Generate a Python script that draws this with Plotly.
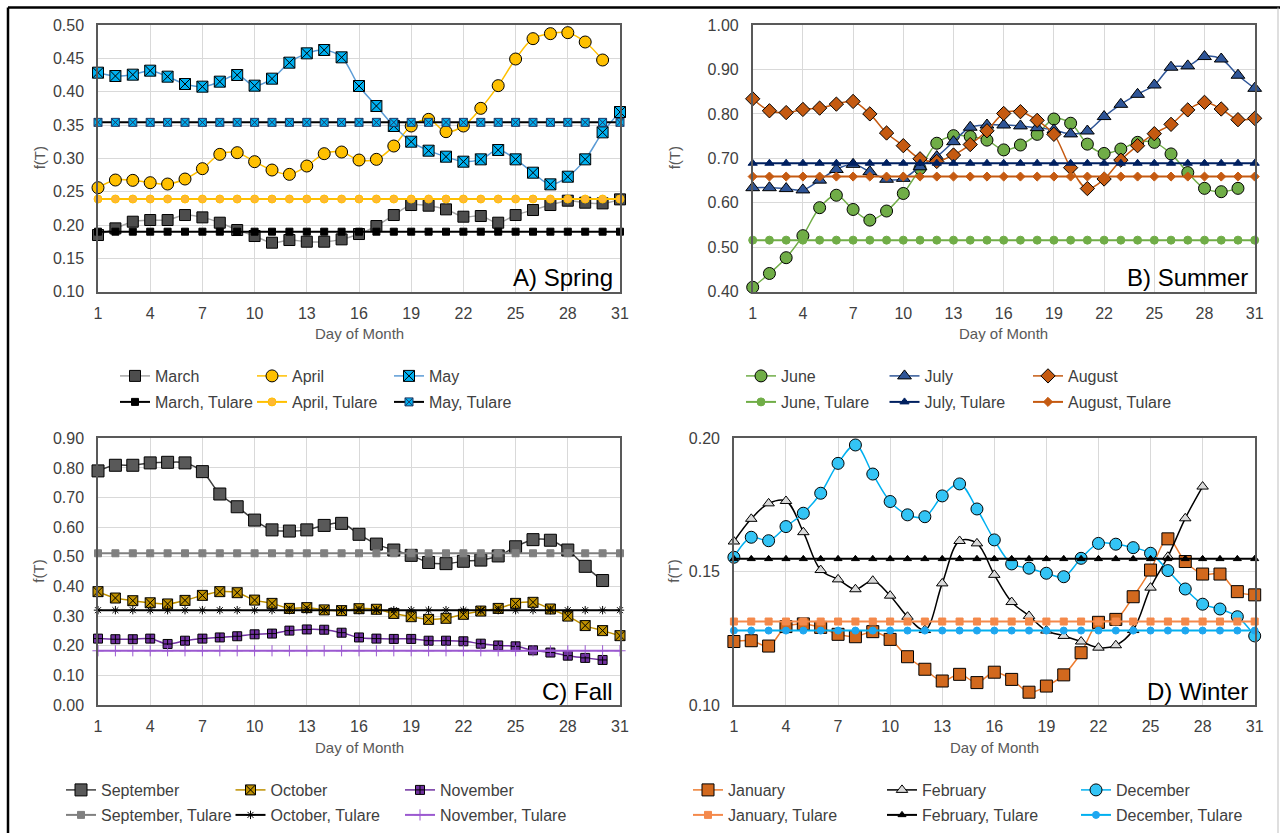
import plotly.graph_objects as go

W, H = 1280, 833
days = list(range(1, 32))
day_ticks = list(range(1, 32, 3))

# ---------------- Panel A: Spring ----------------
march = [0.185, 0.195, 0.205, 0.2075, 0.2075, 0.215, 0.2115, 0.2035, 0.1925, 0.1835,
         0.1735, 0.1775, 0.175, 0.175, 0.1785, 0.1865, 0.1985, 0.215, 0.230, 0.229,
         0.2235, 0.2125, 0.2135, 0.2035, 0.215, 0.2225, 0.230, 0.2365, 0.2335, 0.2325, 0.2385]
april = [0.256, 0.2675, 0.267, 0.2635, 0.2615, 0.269, 0.2845, 0.306, 0.3085, 0.295,
         0.2825, 0.276, 0.2885, 0.307, 0.3095, 0.2975, 0.2985, 0.3185, 0.3485, 0.3585,
         0.340, 0.3485, 0.375, 0.409, 0.449, 0.4795, 0.487, 0.4885, 0.4745, 0.4475]
may = [0.4285, 0.4235, 0.4255, 0.4315, 0.4225, 0.4115, 0.4075, 0.415, 0.425, 0.409,
       0.4195, 0.4435, 0.4575, 0.4625, 0.4515, 0.4085, 0.3785, 0.3485, 0.325, 0.3115,
       0.3025, 0.295, 0.2985, 0.3125, 0.2985, 0.2785, 0.261, 0.2725, 0.2985, 0.339, 0.3695]
march_tulare = 0.190
april_tulare = 0.239
may_tulare = 0.354

# ---------------- Panel B: Summer ----------------
june = [0.410, 0.441, 0.4765, 0.526, 0.589, 0.617, 0.585, 0.561, 0.5815, 0.621,
        0.677, 0.734, 0.751, 0.749, 0.741, 0.719, 0.730, 0.754, 0.7885, 0.779,
        0.732, 0.711, 0.721, 0.736, 0.736, 0.710, 0.668, 0.6325, 0.625, 0.6325]
july = [0.634, 0.634, 0.632, 0.629, 0.651, 0.675, 0.6865, 0.670, 0.653, 0.655,
        0.681, 0.704, 0.7375, 0.770, 0.775, 0.775, 0.773, 0.769, 0.764, 0.755,
        0.7615, 0.794, 0.8215, 0.844, 0.865, 0.905, 0.908, 0.929, 0.9235, 0.887, 0.8575]
august = [0.834, 0.807, 0.803, 0.810, 0.813, 0.822, 0.828, 0.800, 0.757, 0.7285,
          0.699, 0.693, 0.7075, 0.731, 0.762, 0.801, 0.805, 0.7855, 0.754, 0.679,
          0.632, 0.6535, 0.696, 0.7285, 0.7555, 0.7765, 0.809, 0.826, 0.811, 0.787, 0.790]
june_tulare = 0.516
july_tulare = 0.689
august_tulare = 0.659

# ---------------- Panel C: Fall ----------------
september = [0.790, 0.809, 0.809, 0.817, 0.819, 0.817, 0.7875, 0.712, 0.669, 0.624,
             0.591, 0.587, 0.591, 0.606, 0.613, 0.576, 0.543, 0.523, 0.505, 0.481,
             0.477, 0.485, 0.489, 0.503, 0.534, 0.558, 0.556, 0.523, 0.468, 0.420]
october = [0.3825, 0.361, 0.352, 0.345, 0.341, 0.353, 0.370, 0.3825, 0.379, 0.354,
           0.343, 0.326, 0.3285, 0.321, 0.3185, 0.325, 0.323, 0.309, 0.298, 0.289,
           0.2925, 0.306, 0.317, 0.326, 0.343, 0.3465, 0.324, 0.300, 0.268, 0.251, 0.234]
november = [0.224, 0.222, 0.222, 0.224, 0.206, 0.217, 0.224, 0.228, 0.232, 0.2385,
            0.241, 0.251, 0.255, 0.254, 0.244, 0.228, 0.224, 0.223, 0.223, 0.217,
            0.217, 0.215, 0.207, 0.201, 0.198, 0.1845, 0.177, 0.1665, 0.159, 0.152]
september_tulare = 0.512
october_tulare = 0.320
november_tulare = 0.183

# ---------------- Panel D: Winter ----------------
january = [0.1238, 0.1241, 0.1221, 0.1294, 0.1304, 0.1291, 0.1265, 0.1256, 0.1275, 0.1246,
           0.1181, 0.1134, 0.1090, 0.1115, 0.1084, 0.1123, 0.1096, 0.1048, 0.1071, 0.1113,
           0.1196, 0.1310, 0.1321, 0.1406, 0.1506, 0.1623, 0.1538, 0.1491, 0.1491, 0.1425, 0.1413]
february = [0.1613, 0.1698, 0.1756, 0.1765, 0.1648, 0.1506, 0.1471, 0.1434, 0.1466, 0.1410,
            0.1331, 0.1281, 0.1456, 0.1615, 0.1606, 0.1488, 0.1386, 0.1334, 0.1279, 0.1259,
            0.1238, 0.1215, 0.1224, 0.1281, 0.1440, 0.1556, 0.1700, 0.1819]
december = [0.1554, 0.1629, 0.1616, 0.1669, 0.1719, 0.1794, 0.1906, 0.1975, 0.1866, 0.1763,
            0.1713, 0.1706, 0.1784, 0.1829, 0.1735, 0.1619, 0.1529, 0.1513, 0.1494, 0.1481,
            0.1550, 0.1606, 0.1603, 0.1590, 0.1569, 0.1504, 0.1435, 0.1378, 0.1360, 0.1331, 0.1259]
january_tulare = 0.1313
february_tulare = 0.1548
december_tulare = 0.1279

panel_titles = ["A) Spring", "B) Summer", "C) Fall", "D) Winter"]
y_ranges = [[0.10, 0.50], [0.40, 1.00], [0.00, 0.90], [0.10, 0.20]]
y_dticks = [0.05, 0.10, 0.10, 0.05]

FONT = "Liberation Sans, Arial, sans-serif"
TICK_COLOR = "#404040"
TITLE_COLOR = "#595959"

# plot area boxes in pixels: (left, right, top, bottom)
boxes = [(98, 620, 25, 291.7), (752.7, 1254.7, 25, 291.7),
         (98, 620, 438.3, 705), (733.9, 1254.7, 438.3, 705)]

fig = go.Figure()


def add(axis_i, name, y, legend, line_color, symbol, fill, size, lw=1.5,
        mline="#000000", mlw=1, shape="spline"):
    xa = "x" if axis_i == 1 else f"x{axis_i}"
    ya = "y" if axis_i == 1 else f"y{axis_i}"
    fig.add_trace(go.Scatter(
        x=days[:len(y)], y=y, name=name, mode="lines+markers",
        xaxis=xa, yaxis=ya, legend=legend, cliponaxis=False,
        line=dict(color=line_color, width=lw, shape=shape, smoothing=1.0),
        marker=dict(symbol=symbol, color=fill, size=size,
                    line=dict(color=mline, width=mlw)),
    ))


def flat(v):
    return [v for _ in days]

# Panel A
add(1, "March", march, "legend", "#a6a6a6", "square", "#4d4d4d", 11)
add(1, "April", april, "legend", "#ffc000", "circle", "#ffc000", 12)
add(1, "May", may, "legend", "#5b9bd5", "square-x", "#00b0f0", 11)
add(1, "March, Tulare", flat(march_tulare), "legend2", "#000000", "square", "#000000", 7, lw=2, shape="linear")
add(1, "April, Tulare", flat(april_tulare), "legend2", "#ffc000", "circle", "#ffb833", 8, lw=2, mline="#ffc000", shape="linear")
add(1, "May, Tulare", flat(may_tulare), "legend2", "#000000", "square-x", "#00b0f0", 8, lw=2, mline="#1f3864", shape="linear")

# Panel B
add(2, "June", june, "legend3", "#70ad47", "circle", "#70ad47", 12)
add(2, "July", july, "legend3", "#2f5597", "triangle-up", "#2f5597", 12)
add(2, "August", august, "legend3", "#c55a11", "diamond", "#c55a11", 11)
add(2, "June, Tulare", flat(june_tulare), "legend4", "#70ad47", "circle", "#70ad47", 8, lw=2, mline="#70ad47", shape="linear")
add(2, "July, Tulare", flat(july_tulare), "legend4", "#002060", "triangle-up", "#002060", 8, lw=2, mline="#002060", shape="linear")
add(2, "August, Tulare", flat(august_tulare), "legend4", "#c55a11", "diamond", "#c55a11", 7, lw=2, mline="#c55a11", shape="linear")

# Panel C
add(3, "September", september, "legend5", "#404040", "square", "#595959", 12)
add(3, "October", october, "legend5", "#bf9000", "square-x", "#bf9000", 10)
add(3, "November", november, "legend5", "#7030a0", "square-cross", "#7030a0", 9)
add(3, "September, Tulare", flat(september_tulare), "legend6", "#808080", "square", "#808080", 7, lw=2, mline="#808080", shape="linear")
add(3, "October, Tulare", flat(october_tulare), "legend6", "#000000", "asterisk-open", "#000000", 7, lw=2, mline="#000000", shape="linear")
add(3, "November, Tulare", flat(november_tulare), "legend6", "#9b59d0", "cross-thin-open", "#9b59d0", 8, lw=2, mline="#9b59d0", shape="linear")

# Panel D
add(4, "January", january, "legend7", "#ed7d31", "square", "#d2691e", 12)
add(4, "February", february, "legend7", "#000000", "triangle-up", "#d9d9d9", 10)
add(4, "December", december, "legend7", "#00b0f0", "circle", "#33c4f5", 12)
add(4, "January, Tulare", flat(january_tulare), "legend8", "#f4894b", "square", "#f4894b", 7, lw=2, mline="#f4894b", shape="linear")
add(4, "February, Tulare", flat(february_tulare), "legend8", "#000000", "triangle-up", "#000000", 7, lw=2, shape="linear")
add(4, "December, Tulare", flat(december_tulare), "legend8", "#00b0f0", "circle", "#1ea7f0", 7, lw=2, mline="#1ea7f0", shape="linear")

layout = dict(
    width=W, height=H,
    margin=dict(l=0, r=0, t=0, b=0, autoexpand=False),
    paper_bgcolor="white", plot_bgcolor="white",
    font=dict(family=FONT, color=TICK_COLOR, size=16),
    showlegend=True,
)

annotations = []
for i, (l, r, t, b) in enumerate(boxes, start=1):
    sx = "" if i == 1 else str(i)
    layout[f"xaxis{sx}"] = dict(
        domain=[l / W, r / W], range=[1, 31], tickvals=day_ticks,
        anchor=f"y{sx}", showgrid=True, gridcolor="#d9d9d9", gridwidth=1,
        showline=True, mirror=True, linecolor="#595959", linewidth=1.5,
        zeroline=False, ticks="", ticklabelstandoff=6,
        tickfont=dict(family=FONT, size=16, color=TICK_COLOR),
    )
    layout[f"yaxis{sx}"] = dict(
        domain=[1 - b / H, 1 - t / H], range=y_ranges[i - 1], dtick=y_dticks[i - 1],
        tickformat=".2f", anchor=f"x{sx}", showgrid=True, gridcolor="#d9d9d9",
        gridwidth=1, showline=True, mirror=True, linecolor="#595959", linewidth=1.5,
        zeroline=False, ticks="", ticklabelstandoff=9,
        tickfont=dict(family=FONT, size=16, color=TICK_COLOR),
    )
    # panel title
    annotations.append(dict(
        text=panel_titles[i - 1], xref="paper", yref="paper",
        x=(r - 5) / W, y=1 - (b - 14) / H, xanchor="right", yanchor="middle",
        showarrow=False, font=dict(family=FONT, size=24, color="#000000"),
    ))
    # x title
    annotations.append(dict(
        text="Day of Month", xref="paper", yref="paper",
        x=((l + r) / 2) / W, y=1 - (b + 42) / H, xanchor="center", yanchor="middle",
        showarrow=False, font=dict(family=FONT, size=15, color=TITLE_COLOR),
    ))
    # y title
    annotations.append(dict(
        text="f(T)", xref="paper", yref="paper", textangle=-90,
        x=(39 if i in (1, 3) else 674) / W, y=1 - ((t + b) / 2) / H,
        xanchor="center", yanchor="middle",
        showarrow=False, font=dict(family=FONT, size=15, color=TITLE_COLOR),
    ))

layout["annotations"] = annotations

legend_specs = [
    ("legend", 115, 376, 92), ("legend2", 115, 402, 92),
    ("legend3", 741, 376, 98.5), ("legend4", 741, 402, 98.5),
    ("legend5", 61, 790, 124.5), ("legend6", 61, 815, 124.5),
    ("legend7", 688, 790, 149), ("legend8", 688, 815, 149),
]
for key, xpx, ypx, ew in legend_specs:
    layout[key] = dict(
        orientation="h", x=xpx / W, y=1 - ypx / H, xanchor="left", yanchor="middle",
        bgcolor="rgba(0,0,0,0)", borderwidth=0, itemwidth=30,
        entrywidth=ew, entrywidthmode="pixels", tracegroupgap=0,
        font=dict(family=FONT, size=16, color=TICK_COLOR),
    )

layout["shapes"] = [
    dict(type="line", xref="paper", yref="paper", x0=8 / W, x1=1, y0=1 - 7.5 / H, y1=1 - 7.5 / H,
         line=dict(color="#000000", width=2.5)),
    dict(type="line", xref="paper", yref="paper", x0=8 / W, x1=8 / W, y0=0, y1=1 - 7.5 / H,
         line=dict(color="#000000", width=2.5)),
    dict(type="line", xref="paper", yref="paper", x0=1278 / W, x1=1278 / W, y0=0, y1=1 - 7.5 / H,
         line=dict(color="#bfbfbf", width=1)),
]

fig.update_layout(**layout)
fig.write_html(
    "out.html",
    config={"displayModeBar": False},
    post_script="document.body.style.margin='0';document.body.style.overflow='hidden';",
)
